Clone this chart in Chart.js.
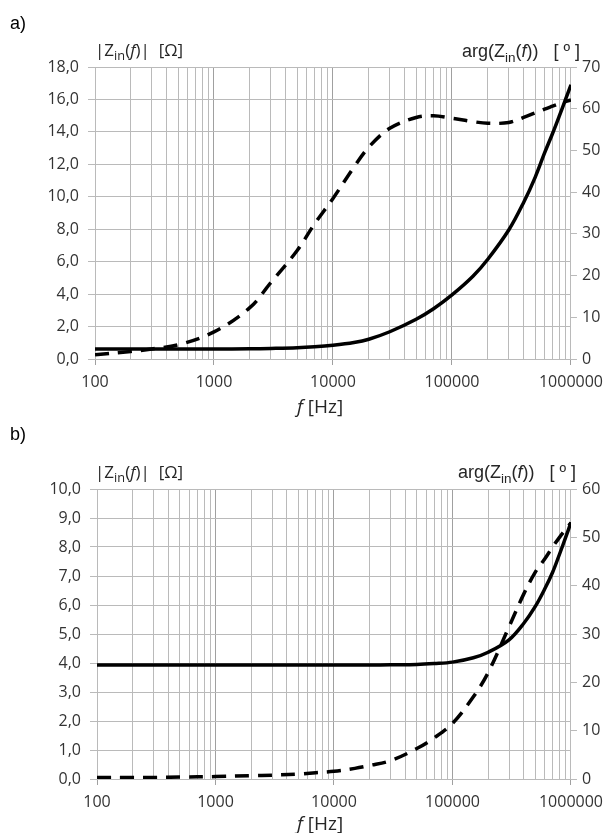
<!DOCTYPE html>
<html><head><meta charset="utf-8">
<script src="https://cdn.jsdelivr.net/npm/chart.js@4/dist/chart.umd.min.js"></script>
<style>
html,body{margin:0;padding:0;background:#fff;width:611px;height:833px;overflow:hidden;}
canvas{position:absolute;left:0;}
.t{position:absolute;white-space:nowrap;color:#262626;line-height:1;}
.pl{font-family:'Liberation Sans',Arial,sans-serif;font-size:18px;color:#000;}
.zt{font-family:'Open Sans',sans-serif;font-size:17px;}
.at{font-family:'Liberation Sans',Arial,sans-serif;font-size:18px;}
.xt{font-family:'Open Sans',sans-serif;font-size:19px;transform:translateX(-50%);}
sub{font-size:0.75em;vertical-align:-0.35em;line-height:0;}
</style></head><body>
<canvas id="ca" width="611" height="420" style="top:0"></canvas>
<canvas id="cb" width="611" height="413" style="top:420px"></canvas>

<div class="t pl" style="left:10px;top:14px">a)</div>
<div class="t zt" style="left:95px;top:41px">|Z<sub>in</sub>(<i>f</i>)|&nbsp; [Ω]</div>
<div class="t at" style="left:462px;top:42px">arg(Z<sub>in</sub>(<i>f</i>))&nbsp;&nbsp; [ º ]</div>
<div class="t xt" style="left:320px;top:397px"><i>f</i> [Hz]</div>

<div class="t pl" style="left:10px;top:425px">b)</div>
<div class="t zt" style="left:95px;top:463px">|Z<sub>in</sub>(<i>f</i>)|&nbsp; [Ω]</div>
<div class="t at" style="left:458px;top:463px">arg(Z<sub>in</sub>(<i>f</i>))&nbsp;&nbsp; [ º ]</div>
<div class="t xt" style="left:320px;top:814px"><i>f</i> [Hz]</div>

<script>
// ---- data ----
const freqA = [100,200,300,500,1000,2000,3000,5000,7000,10000,15000,20000,30000,50000,70000,100000,150000,200000,300000,400000,500000,600000,700000,800000,900000,1000000];
const absZA = [0.62,0.62,0.62,0.62,0.62,0.63,0.65,0.69,0.75,0.85,1.02,1.22,1.68,2.45,3.1,3.95,5.1,6.15,7.95,9.65,11.2,12.7,13.9,15.0,16.0,16.9];
const argZA = [1.0,1.8,2.4,3.4,6.5,12.3,18.3,26,32.4,38.5,46,50.8,55.3,57.9,58.3,57.7,56.9,56.5,56.7,57.9,59,59.9,60.6,61.2,61.7,62.1];

const freqB = [100,200,300,500,1000,2000,3000,5000,7000,10000,15000,20000,30000,50000,70000,100000,150000,200000,300000,400000,500000,600000,700000,800000,900000,1000000];
const absZB = [3.93,3.93,3.93,3.93,3.93,3.93,3.93,3.93,3.93,3.93,3.93,3.93,3.94,3.95,3.98,4.03,4.18,4.37,4.8,5.37,5.95,6.55,7.13,7.75,8.32,8.85];
const argZB = [0.3,0.3,0.3,0.4,0.5,0.7,0.8,1.0,1.3,1.6,2.2,2.8,3.8,6.3,8.5,11.5,17,22,31.5,38.3,42.8,45.5,48,50,51.6,53];

const xDecades = [100,1000,10000,100000,1000000];
const leftTicksA = [0,2,4,6,8,10,12,14,16,18];
const rightTicksA = [0,10,20,30,40,50,60,70];
const leftTicksB = [0,1,2,3,4,5,6,7,8,9,10];
const rightTicksB = [0,10,20,30,40,50,60];

// ---- helpers ----
const xGrid = [];
for (let d = 0; d < xDecades.length - 1; d++) {
  for (let m = 1; m <= 9; m++) xGrid.push(xDecades[d] * m);
}
xGrid.push(xDecades[xDecades.length - 1]);

function isDecade(v) { return xDecades.indexOf(v) >= 0; }
function pts(xs, ys) { return xs.map((x, i) => ({x: x, y: ys[i]})); }
const GRID = '#bababa', GRID_D = '#a0a0a0', TXT = '#333333';
const tickFont = {family: "'Open Sans', sans-serif", size: 16};

function makeChart(id, fx, z, ph, lt, rt, dims) {
  new Chart(document.getElementById(id), {
    type: 'line',
    data: {
      datasets: [
        {data: pts(fx, z), yAxisID: 'y', borderColor: '#000', borderWidth: 3.5,
         pointRadius: 0, tension: 0.35, fill: false},
        {data: pts(fx, ph), yAxisID: 'y2', borderColor: '#000', borderWidth: 3.5,
         borderDash: [14, 9], pointRadius: 0, tension: 0.35, fill: false}
      ]
    },
    options: {
      responsive: false, animation: false, events: [],
      layout: {padding: {top: dims.top, left: 0, right: 0, bottom: 0}, autoPadding: false},
      plugins: {legend: {display: false}, tooltip: {enabled: false}, title: {display: false}},
      scales: {
        x: {
          type: 'logarithmic', position: 'bottom', min: xDecades[0], max: xDecades[xDecades.length - 1],
          afterBuildTicks: s => { s.ticks = xGrid.map(v => ({value: v})); },
          afterFit: s => { s.height = dims.xh; },
          grid: {
            color: c => (c.tick && isDecade(c.tick.value)) ? GRID_D : GRID,
            tickColor: c => (c.tick && isDecade(c.tick.value)) ? GRID_D : 'rgba(0,0,0,0)',
            lineWidth: 1, tickLength: 6, drawTicks: true
          },
          border: {display: true, color: GRID, width: 1},
          ticks: {
            autoSkip: false, maxRotation: 0, minRotation: 0, padding: 8,
            color: TXT, font: tickFont,
            callback: v => isDecade(v) ? String(v) : ''
          }
        },
        y: {
          position: 'left', min: lt[0], max: lt[lt.length - 1],
          afterBuildTicks: s => { s.ticks = lt.map(v => ({value: v})); },
          afterFit: s => { s.width = dims.lw; },
          grid: {color: GRID, tickColor: GRID, lineWidth: 1, tickLength: 7},
          border: {display: true, color: GRID, width: 1},
          ticks: {padding: 9, color: TXT, font: tickFont,
                  callback: v => v.toFixed(1).replace('.', ',')}
        },
        y2: {
          position: 'right', min: rt[0], max: rt[rt.length - 1],
          afterBuildTicks: s => { s.ticks = rt.map(v => ({value: v})); },
          afterFit: s => { s.width = dims.rw; },
          grid: {drawOnChartArea: false, color: GRID, tickColor: GRID, tickLength: 6},
          border: {display: true, color: GRID, width: 1},
          ticks: {padding: 5, color: TXT, font: tickFont, callback: v => String(v)}
        }
      }
    }
  });
}

makeChart('ca', freqA, absZA, argZA, leftTicksA, rightTicksA, {top: 67, lw: 95, rw: 34, xh: 61});
makeChart('cb', freqB, absZB, argZB, leftTicksB, rightTicksB, {top: 69, lw: 97, rw: 37, xh: 54});
</script>
</body></html>
